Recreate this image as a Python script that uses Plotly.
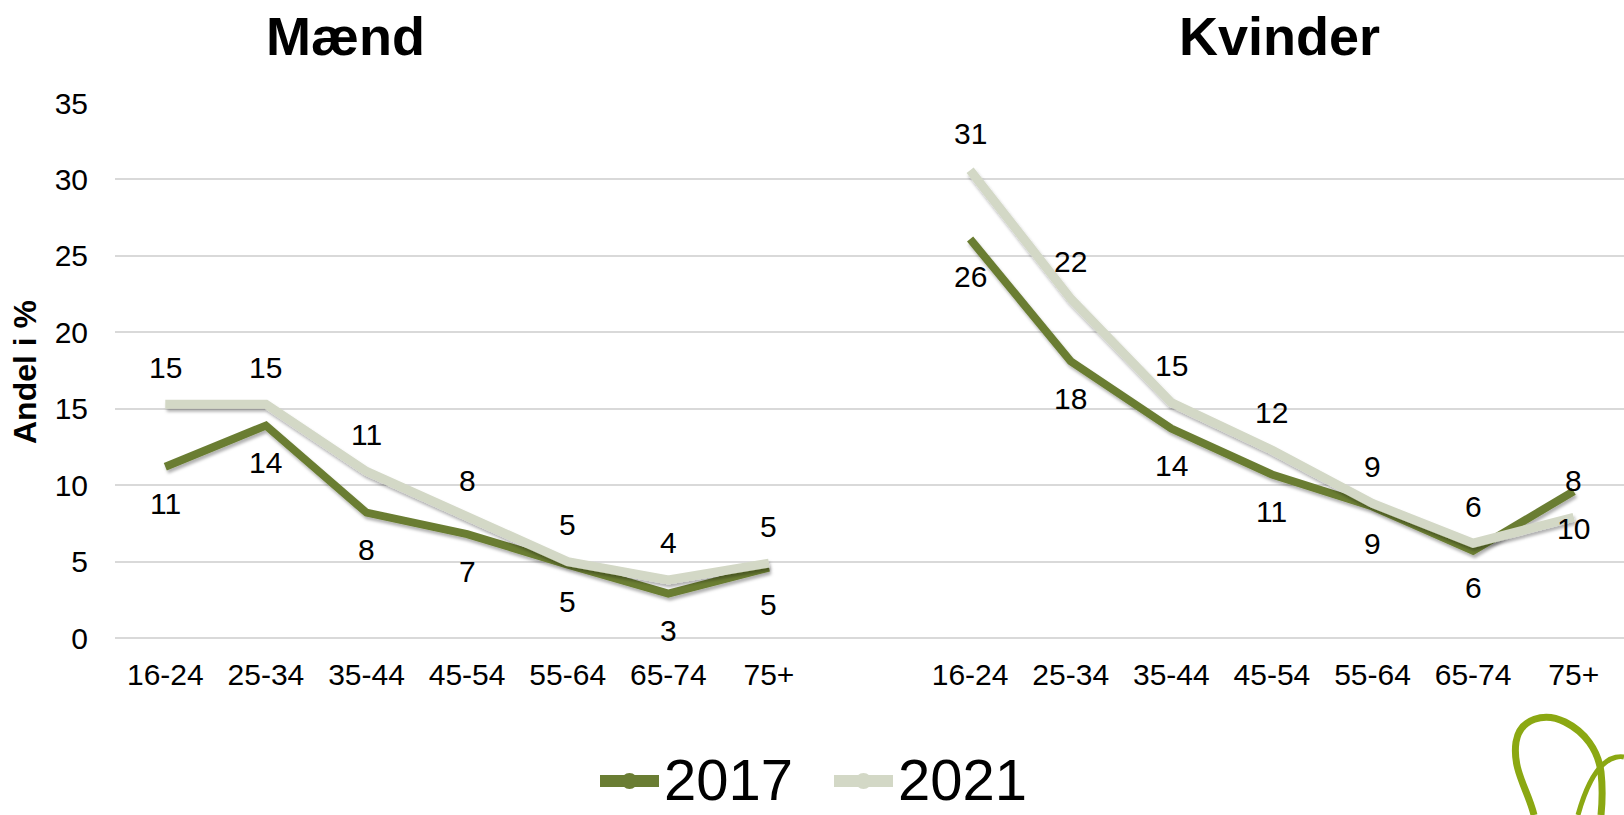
import plotly.graph_objects as go

# Age groups and shares (percent) per sex and survey year
age_groups = ["16-24", "25-34", "35-44", "45-54", "55-64", "65-74", "75+"]
maend_2017 = [11.2, 13.9, 8.2, 6.8, 4.8, 2.9, 4.6]
maend_2021 = [15.3, 15.3, 10.9, 7.9, 5.0, 3.8, 4.9]
kvinder_2017 = [26.1, 18.1, 13.7, 10.7, 8.6, 5.7, 9.6]
kvinder_2021 = [30.6, 22.2, 15.4, 12.3, 8.8, 6.2, 7.9]
y_ticks = [0, 5, 10, 15, 20, 25, 30, 35]

panel_titles = ["Mænd", "Kvinder"]
years = ["2017", "2021"]
colors = {"2017": "#6A7D33", "2021": "#D3D8C6"}
widths = {"2017": 8, "2021": 9}

FONT = "Liberation Sans, Arial, sans-serif"
W, H = 1624, 815
M_L, M_R, M_T, M_B = 115, 0, 103, 177
PLOT_W = W - M_L - M_R
PLOT_H = H - M_T - M_B


def paper_x(px):
    return (px - M_L) / PLOT_W


def paper_y(py):
    return (H - M_B - py) / PLOT_H


fig = go.Figure()

panels = [
    ("x", "y", {"2017": maend_2017, "2021": maend_2021}),
    ("x2", "y2", {"2017": kvinder_2017, "2021": kvinder_2021}),
]

annotations = []
for xa, ya, series in panels:
    for year in years:
        vals = series[year]
        fig.add_trace(go.Scatter(
            x=age_groups, y=vals, mode="lines", name=year,
            line=dict(color=colors[year], width=widths[year]),
            xaxis=xa, yaxis=ya, showlegend=False, hoverinfo="x+y",
        ))
        shift = 37 if year == "2021" else -37
        for cat, v in zip(age_groups, vals):
            annotations.append(dict(
                x=cat, y=v, xref=xa, yref=ya, text=str(int(round(v))),
                showarrow=False, yshift=shift,
                font=dict(family=FONT, size=30, color="#000000"),
            ))

# Panel titles
for title, px in zip(panel_titles, [345, 1279]):
    annotations.append(dict(
        x=paper_x(px), y=paper_y(36), xref="paper", yref="paper",
        text=f"<b>{title}</b>", showarrow=False, xanchor="center", yanchor="middle",
        font=dict(family=FONT, size=54, color="#000000"),
    ))

# Y axis title
annotations.append(dict(
    x=paper_x(25), y=paper_y(372), xref="paper", yref="paper",
    text="<b>Andel i %</b>", textangle=-90, showarrow=False,
    xanchor="center", yanchor="middle",
    font=dict(family=FONT, size=32, color="#000000"),
))

# Legend entries drawn below the plot
shapes = []
legend_items = [("2017", 600, 659, 662), ("2021", 834, 893, 896)]
for year, x0, x1, xt in legend_items:
    yc = 781
    shapes.append(dict(
        type="line", xref="paper", yref="paper",
        x0=paper_x(x0), x1=paper_x(x1), y0=paper_y(yc), y1=paper_y(yc),
        line=dict(color=colors[year], width=12),
    ))
    xm = (x0 + x1) / 2
    shapes.append(dict(
        type="circle", xref="paper", yref="paper",
        x0=paper_x(xm - 8), x1=paper_x(xm + 8), y0=paper_y(yc + 8), y1=paper_y(yc - 8),
        fillcolor=colors[year], line=dict(width=0),
    ))
    annotations.append(dict(
        x=paper_x(xt), y=paper_y(814), xref="paper", yref="paper",
        text=year, showarrow=False, xanchor="left", yanchor="bottom",
        font=dict(family=FONT, size=58, color="#000000"),
    ))

# Decorative logo in the lower right corner
logo_paths = [
    ([(1534, 815), (1528, 790), (1512, 770), (1516, 742), (1520, 718), (1545, 712),
      (1565, 722), (1585, 732), (1598, 750), (1601, 772), (1603, 790), (1602, 805),
      (1601, 815)], 7),
    ([(1578, 815), (1585, 790), (1595, 770), (1606, 762), (1612, 757), (1620, 756),
      (1624, 757)], 5),
]
for pts, lw in logo_paths:
    p = [(paper_x(a), paper_y(b)) for a, b in pts]
    d = f"M {p[0][0]},{p[0][1]}"
    for i in range(1, len(p), 3):
        seg = p[i:i + 3]
        d += " C " + " ".join(f"{a},{b}" for a, b in seg)
    shapes.append(dict(type="path", xref="paper", yref="paper", path=d,
                       line=dict(color="#8BA812", width=lw)))

axis_common_y = dict(
    range=[0, 35], tickvals=y_ticks, showgrid=True, gridcolor="#D9D9D9", gridwidth=2,
    zeroline=True, zerolinecolor="#D9D9D9", zerolinewidth=2, showline=False, ticks="",
    fixedrange=True,
)
axis_common_x = dict(
    type="category", categoryorder="array", categoryarray=age_groups,
    showgrid=False, zeroline=False, showline=False, ticks="",
    tickfont=dict(family=FONT, size=30, color="#000000"), ticklabelstandoff=16,
)

fig.update_layout(
    width=W, height=H,
    margin=dict(l=M_L, r=M_R, t=M_T, b=M_B, pad=0),
    paper_bgcolor="white", plot_bgcolor="white",
    font=dict(family=FONT, color="#000000"),
    xaxis=dict(domain=[0, 0.5], range=[-0.5, 7.0], anchor="y", **axis_common_x),
    xaxis2=dict(domain=[0.5, 1.0], range=[-1.0, 6.5], anchor="y2", **axis_common_x),
    yaxis=dict(anchor="x", tickfont=dict(family=FONT, size=30, color="#000000"),
               ticklabelstandoff=26, **axis_common_y),
    yaxis2=dict(anchor="x2", showticklabels=False, **axis_common_y),
    annotations=annotations,
    shapes=shapes,
    showlegend=False,
)

# Soft drop shadow under the data lines
shadow_js = """
var gd = document.getElementById('{plot_id}');
function addLineShadow() {
  var svg = gd.querySelector('svg.main-svg');
  if (!svg) return;
  var ns = 'http://www.w3.org/2000/svg';
  if (!document.getElementById('lineShadow')) {
    var defs = svg.querySelector('defs');
    if (!defs) { defs = document.createElementNS(ns, 'defs'); svg.insertBefore(defs, svg.firstChild); }
    var f = document.createElementNS(ns, 'filter');
    f.setAttribute('id', 'lineShadow');
    f.setAttribute('filterUnits', 'userSpaceOnUse');
    f.setAttribute('x', '-200'); f.setAttribute('y', '-200');
    f.setAttribute('width', '2400'); f.setAttribute('height', '1400');
    var ds = document.createElementNS(ns, 'feDropShadow');
    ds.setAttribute('dx', '1.5'); ds.setAttribute('dy', '3');
    ds.setAttribute('stdDeviation', '1.8');
    ds.setAttribute('flood-color', '#000000'); ds.setAttribute('flood-opacity', '0.3');
    f.appendChild(ds); defs.appendChild(f);
  }
  gd.querySelectorAll('.scatterlayer path.js-line').forEach(function (p) {
    p.setAttribute('filter', 'url(#lineShadow)');
  });
}
addLineShadow();
gd.on('plotly_afterplot', addLineShadow);
"""

fig.write_html("out.html", post_script=shadow_js)
